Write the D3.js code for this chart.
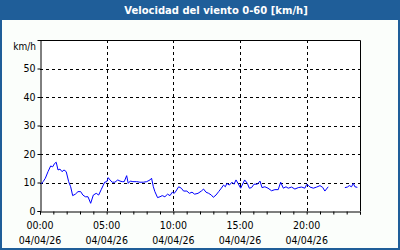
<!DOCTYPE html>
<html>
<head>
<meta charset="utf-8">
<script src="https://cdn.jsdelivr.net/npm/d3@7"></script>
<style>
  html, body { margin: 0; padding: 0; background: #fff; }
  svg { display: block; font-family: "DejaVu Sans Condensed", "Liberation Sans", sans-serif; }
</style>
</head>
<body>
<svg id="chart" width="400" height="250"></svg>
<script>
// wind speed readings, 04/04/26 (km/h); null = gap in the record
const times = ['00:05','00:14','00:24','00:36','00:48','00:57','01:06','01:13','01:21','01:30','01:39','01:48','01:58','02:09','02:18','02:27','02:39','02:51','03:03','03:13','03:24','03:36','03:48','04:00','04:13','04:24','04:36','04:45','04:51','05:01','05:07','05:15','05:25','05:37','05:50','06:00','06:10','06:19','06:30','06:37','06:46','06:58','07:15','07:30','07:45','08:00','08:15','08:22','08:30','08:37','08:49','09:00','09:10','09:22','09:34','09:45','09:55','10:04','10:12','10:24','10:36','10:46','11:01','11:12','11:24','11:36','11:51','12:06','12:16','12:27','12:39','12:51','13:00','13:12','13:24','13:36','13:46','13:54','14:01','14:12','14:24','14:33','14:42','14:51','15:03','15:21','15:33','15:42','15:52','16:03','16:18','16:30','16:39','16:52','17:06','17:22','17:37','17:52','18:03','18:15','18:27','18:37','18:52','19:07','19:22','19:37','19:52','20:00','20:09','20:15','20:30','20:45','21:00','21:12','21:22','21:37','22:15','22:52','23:03','23:12','23:22','23:30','23:37','23:48'];
const speeds = [9.5,10.3,11.5,13.8,15.8,15.5,16.7,17.1,14.4,14.7,13.8,14.4,13.8,10.3,8.5,5.4,5.9,6.8,6.8,5.6,5.0,5.0,2.7,5.6,6.2,5.6,7.6,9.1,10.1,10.3,11.7,10.9,10.1,10.1,10.9,10.5,10.3,10.3,12.4,9.7,10.5,10.3,10.3,10.1,10.1,10.3,10.9,11.5,8.5,6.8,4.7,5.0,5.4,5.0,5.9,5.4,6.6,6.2,7.0,8.5,8.0,7.0,7.0,6.2,6.6,5.9,6.2,7.0,7.7,6.6,6.2,5.6,4.8,5.6,6.8,8.0,9.1,8.5,9.7,9.1,10.1,9.4,10.9,9.7,8.0,10.9,9.7,8.0,8.2,9.4,9.4,10.5,8.2,8.5,8.0,7.1,7.5,7.5,10.1,8.0,8.5,8.0,8.4,7.7,8.2,8.4,8.0,9.3,8.9,8.4,8.0,8.4,8.9,8.3,7.0,8.5,null,8.2,8.4,8.9,8.5,9.7,8.5,8.3];

const yTicks = [0, 10, 20, 30, 40, 50];
const labelHours = [0, 5, 10, 15, 20];
const dayLabel = '04/04/26';
const title = 'Velocidad del viento 0-60 [km/h]';
const unit = 'km/h';

const frameBlue = '#1f5e99';
const svg = d3.select('#chart');
const W = 400, H = 250;
const margin = { top: 40, right: 40, bottom: 39, left: 40 };

const day0 = new Date(2026, 3, 4, 0, 0);
const day1 = new Date(2026, 3, 5, 0, 0);
const parse = d3.timeParse('%H:%M');
const data = times.map((t, i) => {
  const p = parse(t);
  return { t: new Date(2026, 3, 4, p.getHours(), p.getMinutes()), v: speeds[i] };
});

const x = d3.scaleTime().domain([day0, day1]).range([margin.left, W - margin.right]);
const y = d3.scaleLinear().domain([0, 60]).range([H - margin.bottom, margin.top]);

// page background + frame
svg.append('rect').attr('width', W).attr('height', H).attr('fill', frameBlue);
svg.append('rect').attr('x', 2).attr('y', 20).attr('width', W - 4).attr('height', H - 22).attr('fill', '#fbfefb');

svg.append('text')
  .attr('x', 216).attr('y', 14)
  .attr('text-anchor', 'middle')
  .attr('fill', '#fff')
  .attr('font-family', '"DejaVu Sans", sans-serif')
  .attr('font-weight', 'bold')
  .attr('font-size', 10)
  .text(title);

// plot area
svg.append('rect')
  .attr('x', x.range()[0]).attr('y', y.range()[1])
  .attr('width', x.range()[1] - x.range()[0])
  .attr('height', y.range()[0] - y.range()[1])
  .attr('fill', '#fff');

// grid
const hourTicks = d3.timeHour.every(1).range(day0, day1);
svg.append('g')
  .selectAll('line')
  .data(yTicks.filter(d => d > 0))
  .join('line')
  .attr('x1', x.range()[0]).attr('x2', x.range()[1])
  .attr('y1', d => Math.round(y(d)) + 0.5).attr('y2', d => Math.round(y(d)) + 0.5)
  .attr('stroke', '#000').attr('stroke-dasharray', '3,3');

svg.append('g')
  .selectAll('line')
  .data(labelHours.filter(d => d > 0))
  .join('line')
  .attr('x1', d => Math.round(x(d3.timeHour.offset(day0, d))) + 0.5)
  .attr('x2', d => Math.round(x(d3.timeHour.offset(day0, d))) + 0.5)
  .attr('y1', y.range()[1]).attr('y2', y.range()[0])
  .attr('stroke', '#000').attr('stroke-dasharray', '3,3');

// axes
const yAxis = svg.append('g')
  .attr('transform', `translate(${x.range()[0] + 0.5},0)`)
  .call(d3.axisLeft(y).tickValues(yTicks).tickSize(3).tickPadding(2));
yAxis.select('.domain').attr('stroke', '#000');
yAxis.selectAll('text').attr('font-size', 10.5).attr('fill', '#000')
  .attr('font-family', '"DejaVu Sans Condensed", "Liberation Sans", sans-serif');

const xAxis = svg.append('g')
  .attr('transform', `translate(0,${y.range()[0] + 0.5})`)
  .call(d3.axisBottom(x).tickValues(hourTicks.concat([day1])).tickSize(3).tickFormat(''));
xAxis.select('.domain').attr('stroke', '#000');

const xLabels = svg.append('g')
  .selectAll('g')
  .data(labelHours)
  .join('g')
  .attr('transform', d => `translate(${x(d3.timeHour.offset(day0, d))},0)`);
xLabels.append('text')
  .attr('y', 228.5).attr('text-anchor', 'middle').attr('font-size', 10.5)
  .text(d => d3.timeFormat('%H:%M')(d3.timeHour.offset(day0, d)));
xLabels.append('text')
  .attr('y', 243.5).attr('text-anchor', 'middle').attr('font-size', 10.5)
  .text(dayLabel);

// top and right border of plot
svg.append('path')
  .attr('d', `M${x.range()[0]},${y.range()[1] + 0.5}H${x.range()[1] + 0.5}V${y.range()[0]}`)
  .attr('fill', 'none').attr('stroke', '#000');

svg.append('text')
  .attr('x', 36).attr('y', 50)
  .attr('text-anchor', 'end').attr('font-size', 10)
  .text(unit);

// series
const line = d3.line()
  .defined(d => d.v != null)
  .x(d => x(d.t))
  .y(d => y(d.v));
svg.append('path')
  .datum(data)
  .attr('d', line)
  .attr('fill', 'none')
  .attr('stroke', '#0000ff')
  .attr('stroke-width', 1);
</script>
</body>
</html>
